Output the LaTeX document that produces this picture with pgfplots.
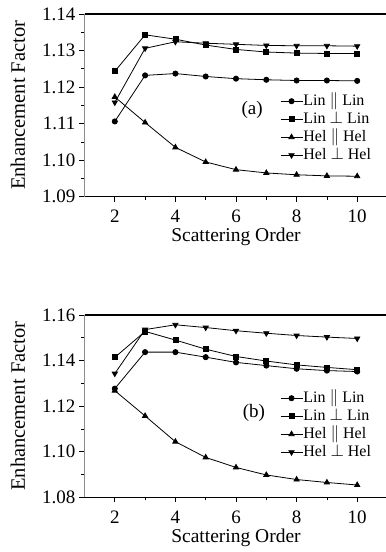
\documentclass[border=0pt]{standalone}
\usepackage{fontspec}
\setmainfont{Liberation Serif}
\usepackage{pgfplots}
\pgfplotsset{compat=1.18}

\pgfplotsset{
  enhplot/.style={
    scale only axis,
    width=303bp,
    xmin=1, xmax=11,
    xtick={2,4,6,8,10},
    minor x tick num=1,
    minor y tick num=1,
    axis x line*=bottom,
    axis y line*=left,
    x axis line style={-, black, line width=0.9pt},
    y axis line style={-, black!45, line width=0.9pt},
    tick align=outside,
    major tick length=5bp,
    minor tick length=3bp,
    every tick/.style={black, line width=0.7pt},
    tick label style={font=\fontsize{19bp}{22bp}\selectfont},
    /pgf/number format/.cd, fixed, fixed zerofill, precision=2, assume math mode=true,
    /pgfplots/.cd,
    xticklabel style={/pgf/number format/precision=0, anchor=center, yshift=-15bp},
    yticklabel style={anchor=east, inner sep=0pt, xshift=-4bp},
    every axis x label/.style={at={(axis description cs:0.5,-0.22)}, anchor=center,
      font=\fontsize{19.5bp}{22bp}\selectfont},
    every axis y label/.style={at={(axis description cs:-0.22,0.5)}, anchor=center, rotate=90,
      font=\fontsize{20.5bp}{22bp}\selectfont},
    xlabel={Scattering Order},
    ylabel={Enhancement Factor},
    every axis plot/.append style={black, line width=0.8pt, mark options={solid, fill=black}},
    legend style={draw=none, fill=none, inner sep=0pt, anchor=north west,
      font=\fontsize{16bp}{18bp}\selectfont, row sep=4bp,
      nodes={inner sep=0.5bp, text height=11bp, text depth=2bp}},
    legend cell align=left,
    legend image code/.code={%
      \draw[mark repeat=2, mark phase=2, #1] plot coordinates {(0bp,0bp) (11bp,0bp) (22bp,0bp)};},
  },
  circ/.style={mark=*, mark size=2.6bp},
  sq/.style={mark=square*, mark size=2.5bp},
  tup/.style={mark=triangle*, mark size=3bp},
  tdn/.style={mark=triangle*, mark size=3bp, mark options={rotate=180}},
}

\begin{document}
\begin{tikzpicture}
\useasboundingbox (0,0) rectangle (386bp,552bp);

% Panel (a)
\begin{axis}[enhplot, at={(84.5bp,355.3bp)}, anchor=south west,
  height=182.7bp, ymin=1.09, ymax=1.14, ytick={1.09,1.10,...,1.145},
  legend style={at={(rel axis cs:0.645,0.562)}}]
\addplot[circ] coordinates {(2,1.1106)(3,1.1232)(4,1.1237)(5,1.1229)(6,1.1223)(7,1.1220)(8,1.1218)(9,1.1218)(10,1.1217)};
\addlegendentry{Lin $\parallel$ Lin}
\addplot[sq] coordinates {(2,1.1243)(3,1.1343)(4,1.1331)(5,1.1315)(6,1.1303)(7,1.1296)(8,1.1293)(9,1.1292)(10,1.1292)};
\addlegendentry{Lin $\perp$ Lin}
\addplot[tup] coordinates {(2,1.1173)(3,1.1103)(4,1.1035)(5,1.0995)(6,1.0974)(7,1.0965)(8,1.0960)(9,1.0957)(10,1.0956)};
\addlegendentry{Hel $\parallel$ Hel}
\addplot[tdn] coordinates {(2,1.1158)(3,1.1306)(4,1.1324)(5,1.1320)(6,1.1317)(7,1.1314)(8,1.1313)(9,1.1313)(10,1.1312)};
\addlegendentry{Hel $\perp$ Hel}
\draw[black, line width=1.6pt] (rel axis cs:0,1) -- (rel axis cs:1,1);
\node[font=\fontsize{19bp}{22bp}\selectfont] at (rel axis cs:0.553,0.4745) {(a)};
\end{axis}

% Panel (b)
\begin{axis}[enhplot, at={(84.5bp,54.7bp)}, anchor=south west,
  height=182.3bp, ymin=1.08, ymax=1.16, ytick={1.08,1.10,...,1.165},
  legend style={at={(rel axis cs:0.645,0.583)}}]
\addplot[circ] coordinates {(2,1.1277)(3,1.1437)(4,1.1437)(5,1.1415)(6,1.1392)(7,1.1378)(8,1.1364)(9,1.1356)(10,1.1352)};
\addlegendentry{Lin $\parallel$ Lin}
\addplot[sq] coordinates {(2,1.1414)(3,1.1528)(4,1.1490)(5,1.1450)(6,1.1418)(7,1.1398)(8,1.1381)(9,1.1370)(10,1.1360)};
\addlegendentry{Lin $\perp$ Lin}
\addplot[tup] coordinates {(2,1.1268)(3,1.1157)(4,1.1044)(5,1.0975)(6,1.0931)(7,1.0898)(8,1.0878)(9,1.0865)(10,1.0854)};
\addlegendentry{Hel $\parallel$ Hel}
\addplot[tdn] coordinates {(2,1.1343)(3,1.1536)(4,1.1557)(5,1.1545)(6,1.1531)(7,1.1520)(8,1.1510)(9,1.1503)(10,1.1497)};
\addlegendentry{Hel $\perp$ Hel}
\draw[black, line width=1.2pt] (rel axis cs:0,1) -- (rel axis cs:1,1);
\node[font=\fontsize{19bp}{22bp}\selectfont] at (rel axis cs:0.559,0.462) {(b)};
\end{axis}
\end{tikzpicture}
\end{document}
